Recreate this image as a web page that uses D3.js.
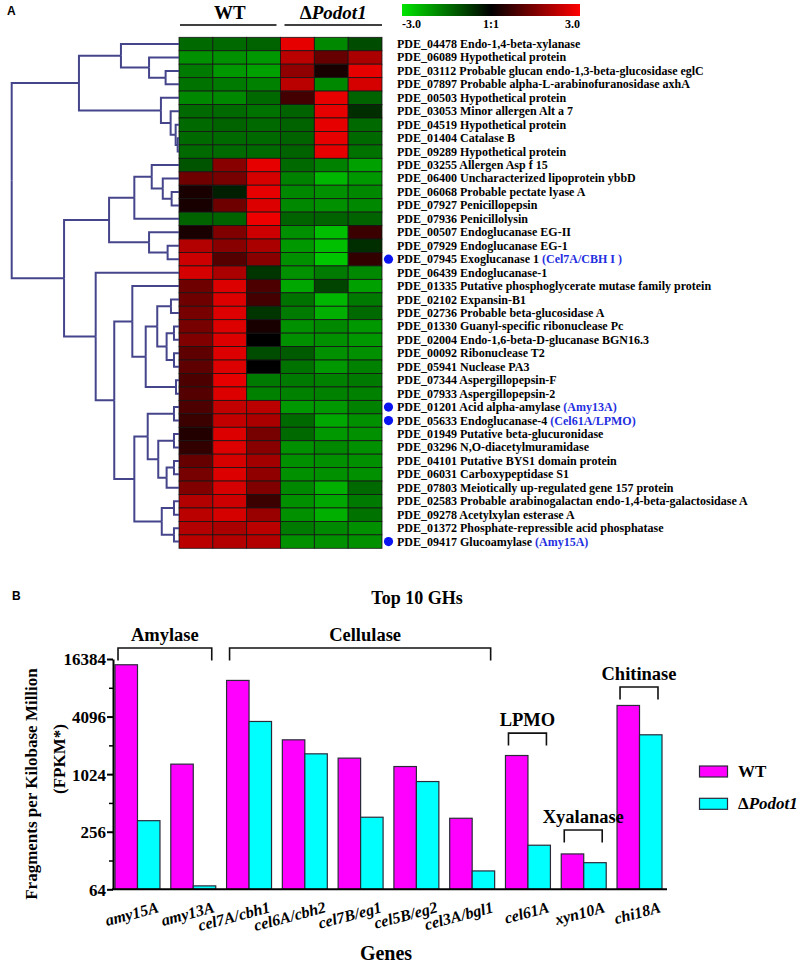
<!DOCTYPE html>
<html>
<head>
<meta charset="utf-8">
<script src="https://cdn.jsdelivr.net/npm/d3@7"></script>
<style>
  body { margin: 0; background: #fff; }
  svg text { font-family: "Liberation Serif", "Times New Roman", serif; font-weight: bold; }
</style>
</head>
<body>
<svg id="fig" width="800" height="971"></svg>
<script>
// ---- panel A data ----
const sampleCols = ["WT1", "WT2", "WT3", "KO1", "KO2", "KO3"];

const geneIds = ["PDE_04478", "PDE_06089", "PDE_03112", "PDE_07897", "PDE_00503", "PDE_03053", "PDE_04519", "PDE_01404", "PDE_09289",
  "PDE_03255", "PDE_06400", "PDE_06068", "PDE_07927", "PDE_07936", "PDE_00507", "PDE_07929", "PDE_07945", "PDE_06439",
  "PDE_01335", "PDE_02102", "PDE_02736", "PDE_01330", "PDE_02004", "PDE_00092", "PDE_05941", "PDE_07344", "PDE_07933",
  "PDE_01201", "PDE_05633", "PDE_01949", "PDE_03296", "PDE_04101", "PDE_06031", "PDE_07803", "PDE_02583", "PDE_09278",
  "PDE_01372", "PDE_09417"];

const geneNames = ["Endo-1,4-beta-xylanase", "Hypothetical protein", "Probable glucan endo-1,3-beta-glucosidase eglC",
  "Probable alpha-L-arabinofuranosidase axhA", "Hypothetical protein", "Minor allergen Alt a 7", "Hypothetical protein",
  "Catalase B", "Hypothetical protein", "Allergen Asp f 15", "Uncharacterized lipoprotein ybbD", "Probable pectate lyase A",
  "Penicillopepsin", "Penicillolysin", "Endoglucanase EG-II", "Endoglucanase EG-1", "Exoglucanase 1", "Endoglucanase-1",
  "Putative phosphoglycerate mutase family protein", "Expansin-B1", "Probable beta-glucosidase A",
  "Guanyl-specific ribonuclease Pc", "Endo-1,6-beta-D-glucanase BGN16.3", "Ribonuclease T2", "Nuclease PA3",
  "Aspergillopepsin-F", "Aspergillopepsin-2", "Acid alpha-amylase ", "Endoglucanase-4", "Putative beta-glucuronidase",
  "N,O-diacetylmuramidase", "Putative BYS1 domain protein", "Carboxypeptidase S1", "Meiotically up-regulated gene 157 protein",
  "Probable arabinogalactan endo-1,4-beta-galactosidase A", "Acetylxylan esterase A", "Phosphate-repressible acid phosphatase",
  "Glucoamylase"];

const markedRows = ["PDE_07945", "PDE_01201", "PDE_05633", "PDE_09417"];
const markedNotes = ["(Cel7A/CBH I )", "(Amy13A)", "(Cel61A/LPMO)", "(Amy15A)"];

// log ratio per gene, columns WT x3 then dPodot1 x3
const heat = [
  [-1.4, -1.4, -1.3, 2.7, -1.8, -1.0],
  [-1.9, -1.9, -2.0, 2.2, 1.2, 2.0],
  [-1.6, -2.0, -2.1, 1.7, 0.3, 2.7],
  [-1.5, -1.6, -1.7, 2.2, -1.8, 2.5],
  [-1.8, -1.8, -1.4, 0.8, 2.7, -1.3],
  [-1.4, -1.4, -1.5, -1.3, 2.7, -0.6],
  [-1.4, -1.3, -1.4, -1.3, 2.7, -1.4],
  [-1.4, -1.4, -1.4, -1.3, 2.7, -1.4],
  [-1.4, -1.4, -1.4, -1.3, 2.7, -1.5],
  [-1.1, 1.6, 2.7, -1.4, -1.7, -2.1],
  [1.3, 1.4, 2.5, -1.7, -2.4, -2.0],
  [0.3, -0.4, 2.7, -1.8, -1.9, -1.8],
  [0.3, 1.3, 2.6, -1.8, -1.9, -1.8],
  [-1.3, -1.3, 2.8, -1.3, -1.3, -1.3],
  [0.3, 1.5, 2.4, -1.9, -2.5, 0.7],
  [2.1, 1.6, 2.0, -2.0, -2.5, -0.6],
  [2.4, 1.0, 1.6, -1.9, -2.6, 0.6],
  [2.5, 2.0, -0.7, -1.9, -1.6, -1.8],
  [1.3, 2.6, 0.9, -2.2, -0.9, -2.1],
  [1.3, 2.6, 0.8, -1.5, -2.4, -1.6],
  [1.4, 2.6, -0.7, -1.6, -2.3, -1.4],
  [1.4, 2.6, 0.3, -1.9, -1.8, -2.0],
  [1.5, 2.6, 0.0, -1.9, -1.9, -2.0],
  [1.1, 2.6, -1.0, -1.2, -1.9, -1.9],
  [1.1, 2.6, 0.0, -1.5, -2.0, -1.7],
  [0.9, 2.7, -1.6, -1.6, -1.7, -1.6],
  [1.0, 2.6, -1.7, -1.7, -1.7, -1.7],
  [0.9, 2.3, 2.2, -2.0, -2.0, -1.7],
  [0.7, 2.3, 2.0, -1.4, -2.2, -1.9],
  [0.4, 2.6, 1.4, -1.4, -2.0, -1.9],
  [0.6, 2.6, 1.6, -1.9, -1.8, -1.9],
  [1.2, 2.5, 1.9, -1.9, -1.9, -1.9],
  [1.4, 2.6, 1.7, -1.9, -1.9, -1.9],
  [1.5, 2.5, 1.5, -1.8, -2.3, -1.4],
  [2.1, 2.4, 0.7, -1.9, -2.2, -1.6],
  [2.2, 2.5, 1.8, -1.9, -2.3, -1.5],
  [2.1, 2.0, 2.2, -1.6, -1.8, -1.9],
  [2.2, 2.1, 2.1, -1.9, -1.9, -1.9]
];

// row dendrogram: [height, left, right], leaves are row indexes
const dendro = [1.0,
  [0.598,
    [0.347, 0, [0.179, 1, [0.080, 2, 3]]],
    [0.108, 4, [0.050, 5, [0.020, 6, [0.008, 7, 8]]]]
  ],
  [0.687,
    [0.418,
      [0.267, [0.163, 9, [0.097, 10, [0.044, 11, 12]]], 13],
      [0.179, 14, [0.068, 15, 16]]
    ],
    [0.498, 17,
      [0.387,
        [0.279, 18, [0.199, [0.130, [0.048, 19, 20], [0.074, [0.030, 21, 22], [0.030, 23, 24]]], [0.018, 25, 26]]],
        [0.267,
          [0.187, [0.030, 27, 28], [0.124, [0.030, 29, 30], [0.074, [0.030, 31, 32], 33]]],
          [0.103, [0.030, 34, 35], [0.030, 36, 37]]
        ]
      ]
    ]
  ]
];

const legendTicks = ["-3.0", "1:1", "3.0"];

// ---- panel B data ----
const genes = ["amy15A", "amy13A", "cel7A/cbh1", "cel6A/cbh2", "cel7B/eg1", "cel5B/eg2", "cel3A/bgl1", "cel61A", "xyn10A", "chi18A"];
const fpkmWT = [14260, 1303, 9780, 2340, 1506, 1230, 354, 1604, 150, 5352];
const fpkmKO = [334, 69.5, 3640, 1670, 363, 857, 99.6, 185, 121.5, 2641];
const yTicks = [64, 256, 1024, 4096, 16384];
const yMinor = [128, 512, 2048, 8192];

const groupNames = ["Amylase", "Cellulase", "LPMO", "Xyalanase", "Chitinase"];
const groupFirst = ["amy15A", "cel7A/cbh1", "cel61A", "xyn10A", "chi18A"];
const groupLast = ["amy13A", "cel3A/bgl1", "cel61A", "xyn10A", "chi18A"];
const groupLevel = [21360, 21360, 2752, 267, 8342];

const seriesNames = ["WT", "Podot1"];
const seriesColors = ["#ff00ff", "#00ffff"];

const svg = d3.select("#fig");

// ================= Panel A =================
svg.append("text").attr("x", 7).attr("y", 15)
  .style("font-family", "'Liberation Sans', Arial, sans-serif")
  .style("font-size", "12px").text("A");

const xCol = d3.scaleBand().domain(sampleCols).range([179, 382]);
const yRow = d3.scaleBand().domain(geneIds).range([37.3, 548.3]);
const color = d3.scaleLinear().domain([-3, 0, 3]).range(["#00e400", "#000000", "#ff0000"]);

// heat cells
const rowsG = svg.append("g").attr("class", "heat");
heat.forEach((vals, i) => {
  rowsG.selectAll(null)
    .data(vals)
    .enter().append("rect")
    .attr("x", (d, j) => xCol(sampleCols[j]))
    .attr("y", yRow(geneIds[i]))
    .attr("width", xCol.bandwidth())
    .attr("height", yRow.bandwidth())
    .attr("fill", d => color(d))
    .attr("stroke", "#151515")
    .attr("stroke-width", 0.8);
});

// column group headers
const hdrY = 25;
svg.append("line").attr("x1", xCol("WT1") + 1).attr("x2", xCol("WT3") + xCol.bandwidth() - 4)
  .attr("y1", hdrY).attr("y2", hdrY).attr("stroke", "#000").attr("stroke-width", 1.5);
svg.append("line").attr("x1", xCol("KO1") + 4).attr("x2", xCol("KO3") + xCol.bandwidth())
  .attr("y1", hdrY).attr("y2", hdrY).attr("stroke", "#000").attr("stroke-width", 1.5);
svg.append("text").attr("x", (xCol("WT1") + xCol("WT3") + xCol.bandwidth()) / 2).attr("y", 19)
  .attr("text-anchor", "middle").style("font-size", "19px").text("WT");
const koT = svg.append("text").attr("x", (xCol("KO1") + xCol("KO3") + xCol.bandwidth()) / 2 + 2).attr("y", 19)
  .attr("text-anchor", "middle").style("font-size", "19px");
koT.append("tspan").text("\u0394");
koT.append("tspan").style("font-style", "italic").text("Podot1");

// colour key
const defs = svg.append("defs");
const grad = defs.append("linearGradient").attr("id", "keyGrad");
[-3, 0, 3].forEach(v => {
  grad.append("stop").attr("offset", ((v + 3) / 6 * 100) + "%").attr("stop-color", color(v));
});
const keyX = d3.scaleLinear().domain([-3, 3]).range([402, 580]);
svg.append("rect").attr("x", keyX(-3)).attr("y", 4).attr("width", keyX(3) - keyX(-3)).attr("height", 12)
  .attr("fill", "url(#keyGrad)");
svg.selectAll(".keyLbl").data(legendTicks).enter().append("text")
  .attr("class", "keyLbl")
  .attr("x", (d, i) => keyX(-3 + i * 3))
  .attr("y", 28)
  .attr("text-anchor", (d, i) => ["start", "middle", "end"][i])
  .style("font-size", "12px")
  .text(d => d);

// dendrogram
const xDen = d3.scaleLinear().domain([1, 0]).range([11.7, 179]);
const root = d3.hierarchy(dendro, d => Array.isArray(d) ? d.slice(1) : null);
root.eachAfter(n => {
  if (n.children) {
    n.h = n.data[0];
    n.py = d3.mean(n.children, c => c.py);
  } else {
    n.h = 0;
    n.py = yRow(geneIds[n.data]) + yRow.bandwidth() / 2;
  }
});
svg.append("g").selectAll("path")
  .data(root.links())
  .enter().append("path")
  .attr("d", l => `M${xDen(l.target.h)},${l.target.py}H${xDen(l.source.h)}V${l.source.py}`)
  .attr("fill", "none")
  .attr("stroke", "#45458c")
  .attr("stroke-width", 2);

// row labels
const lblG = svg.append("g");
geneIds.forEach((id, i) => {
  const y = yRow(id) + yRow.bandwidth() / 2 + 4;
  const t = lblG.append("text").attr("x", 397).attr("y", y).style("font-size", "12px");
  t.append("tspan").text(id + " " + geneNames[i]);
  const k = markedRows.indexOf(id);
  if (k >= 0) {
    t.append("tspan").attr("fill", "#1f2fe0").text(" " + markedNotes[k]);
    lblG.append("circle").attr("cx", 388.5).attr("cy", yRow(id) + yRow.bandwidth() / 2)
      .attr("r", 4.6).attr("fill", "#0a14f0");
  }
});

// ================= Panel B =================
svg.append("text").attr("x", 12).attr("y", 600)
  .style("font-family", "'Liberation Sans', Arial, sans-serif")
  .style("font-size", "12px").text("B");

svg.append("text").attr("x", 417).attr("y", 604).attr("text-anchor", "middle")
  .style("font-size", "18px").text("Top 10 GHs");

const xB = d3.scaleBand().domain(genes).range([113, 664]).paddingInner(0.194).paddingOuter(0.036);
const yB = d3.scaleLog().base(2).domain([64, 16384]).range([889.3, 659]);
const half = xB.bandwidth() / 2;

// bars
const barG = svg.append("g");
[fpkmWT, fpkmKO].forEach((vals, s) => {
  barG.selectAll(null).data(vals).enter().append("rect")
    .attr("x", (d, i) => xB(genes[i]) + s * half)
    .attr("y", d => yB(d))
    .attr("width", half)
    .attr("height", d => yB(64) - yB(d))
    .attr("fill", seriesColors[s])
    .attr("stroke", "#2a2a3a")
    .attr("stroke-width", 1.2);
});

// axes
const yAxisG = svg.append("g").attr("transform", "translate(113,0)")
  .call(d3.axisLeft(yB).tickValues(yTicks).tickFormat(d3.format("d")).tickSize(6).tickSizeOuter(0));
yAxisG.select(".domain").attr("stroke-width", 2);
yAxisG.selectAll(".tick line").attr("stroke-width", 2);
yAxisG.selectAll(".tick text").style("font-size", "17px").style("font-family", "'Liberation Serif', serif")
  .attr("x", -7).attr("dy", "0.35em");
const yMinorG = svg.append("g").attr("transform", "translate(113,0)")
  .call(d3.axisLeft(yB).tickValues(yMinor).tickFormat("").tickSize(4));
yMinorG.select(".domain").remove();
yMinorG.selectAll(".tick line").attr("stroke-width", 1.5);

const xAxisG = svg.append("g").attr("transform", `translate(0,${yB(64)})`)
  .call(d3.axisBottom(xB).tickSize(0).tickSizeOuter(0).tickFormat(""));
xAxisG.select(".domain").attr("d", "M112,0H667").attr("stroke-width", 2);

// rotated gene labels
svg.append("g").selectAll("text").data(genes).enter().append("text")
  .attr("transform", d => `translate(${xB(d) + xB.bandwidth() / 2 + 22},912) rotate(-15)`)
  .attr("text-anchor", "end")
  .style("font-size", "16px")
  .style("font-style", "italic")
  .text(d => d);

// axis titles
svg.append("text").attr("x", 386).attr("y", 960).attr("text-anchor", "middle")
  .style("font-size", "20px").text("Genes");
svg.append("text").attr("transform", "translate(37,784) rotate(-90)").attr("text-anchor", "middle")
  .style("font-size", "17px").text("Fragments per Kilobase Million");
svg.append("text").attr("transform", "translate(65,759) rotate(-90)").attr("text-anchor", "middle")
  .style("font-size", "17px").text("(FPKM*)");

// enzyme group brackets
const brG = svg.append("g");
groupNames.forEach((name, i) => {
  const x1 = xB(groupFirst[i]) + 3;
  const x2 = xB(groupLast[i]) + xB.bandwidth() - 4;
  const y = yB(groupLevel[i]);
  brG.append("path")
    .attr("d", `M${x1},${y + 12.5}V${y}H${x2}V${y + 12.5}`)
    .attr("fill", "none").attr("stroke", "#111").attr("stroke-width", 1.6);
  brG.append("text").attr("x", (x1 + x2) / 2 + (name === "Cellulase" ? 5 : 0)).attr("y", y - 7)
    .attr("text-anchor", "middle").style("font-size", "18.5px").text(name);
});

// legend
const legY = [766, 798.3];
seriesNames.forEach((n, s) => {
  svg.append("rect").attr("x", 699.5).attr("y", legY[s]).attr("width", 28).attr("height", 11)
    .attr("fill", seriesColors[s]).attr("stroke", "#2a2a3a").attr("stroke-width", 1.2);
  const t = svg.append("text").attr("x", 738).attr("y", legY[s] + 11).style("font-size", "17px");
  if (s === 0) {
    t.text(n);
  } else {
    t.append("tspan").text("\u0394");
    t.append("tspan").style("font-style", "italic").text(n);
  }
});
</script>
</body>
</html>
